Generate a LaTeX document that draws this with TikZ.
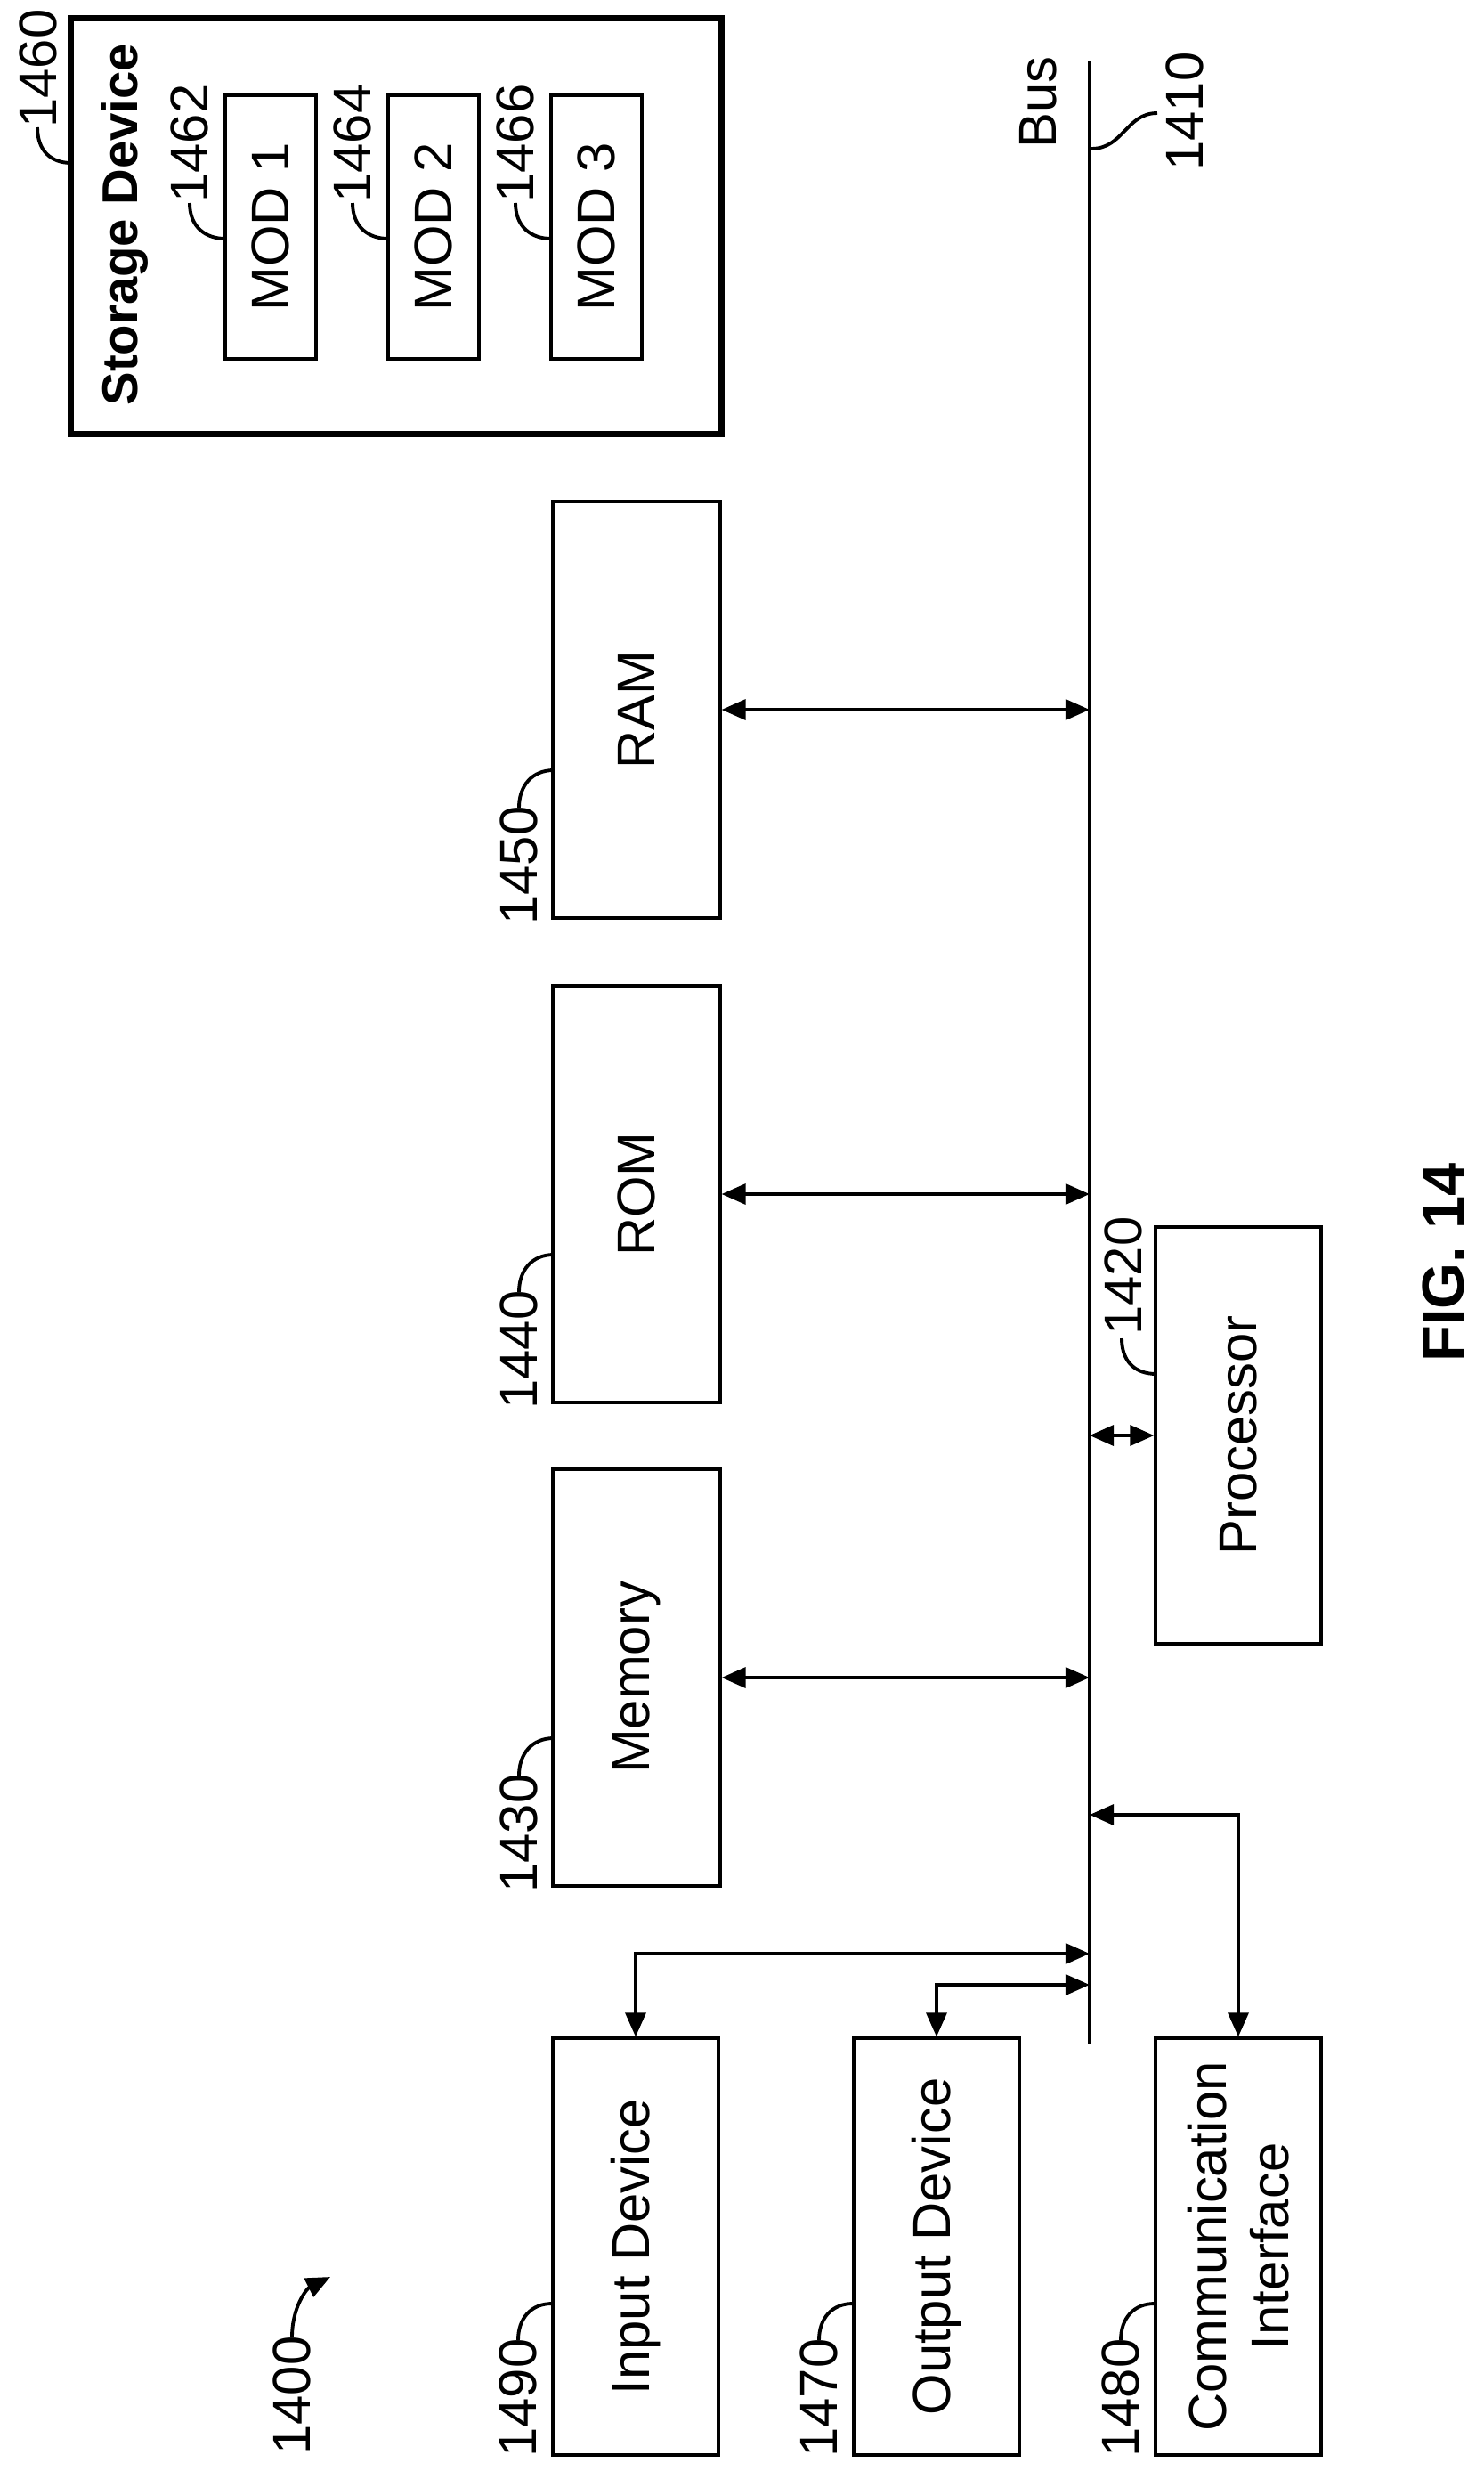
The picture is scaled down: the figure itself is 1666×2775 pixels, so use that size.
\documentclass[tikz,border=0pt]{standalone}
\usepackage{fontspec}
\setmainfont{Liberation Sans}
\usetikzlibrary{arrows.meta}
\begin{document}
\begin{tikzpicture}[x=0.01cm,y=-0.01cm,
  txt/.style={rotate=90,font=\fontsize{17}{20}\selectfont,align=center,inner sep=0pt},
  lbl/.style={rotate=90,font=\fontsize{17}{20}\selectfont,inner sep=0pt},
  lead/.style={line width=1.1pt},
  arr/.style={line width=1.15pt,{Triangle[length=7.7pt,width=6.5pt]}-{Triangle[length=7.7pt,width=6.5pt]}}]
\useasboundingbox (0,0) rectangle (1666,2775);
% storage
\node[draw,line width=2pt,inner sep=0pt,minimum width=7.3cm,minimum height=4.66cm] (stor) at (445,254) {};
\node[txt,font=\bfseries\fontsize{16}{19}\selectfont] (stortxt) at (140,252) {Storage Device};
\foreach \i/\x in {1/304,2/487,3/670}{
  \node[draw,line width=1.15pt,minimum width=1.02cm,minimum height=2.96cm,inner sep=0pt] (mod\i) at (\x,255) {};
  \node[txt] (modt\i) at (\x,255) {MOD \i};
}
\node[lbl] (l1460) at (43,77) {1460};
\draw[lead] (42,143) .. controls (42,170) and (58,183) .. (80,183);
\foreach \x/\n in {213/1462,396/1464,579/1466}{
  \node[lbl] (l\n) at (\x,161) {\n};
  \draw[lead] (\x,228) .. controls (\x,255) and (\x+18,268) .. (\x+40,268);
}
% bus
\coordinate (busTop) at (1224,69);
\coordinate (busBot) at (1224,2295);
\draw[line width=1.2pt] (busTop) -- (busBot);
\node[lbl] (bus) at (1166,115) {Bus};
\node[lbl] (l1410) at (1331,125) {1410};
\draw[lead] (1226,167) .. controls (1262,167) and (1265,127) .. (1300,127);
% RAM ROM Memory
\foreach \nm/\t/\yc/\n in {ram/RAM/797/1450,rom/ROM/1341/1440,mem/Memory/1884/1430}{
  \node[draw,line width=1.15pt,minimum width=1.87cm,minimum height=4.67cm,inner sep=0pt] (\nm) at (715,\yc) {};
  \node[txt] (\nm t) at (715,\yc) {\t};
  \node[lbl] (l\n) at (583,\yc+175) {\n};
  \draw[lead] (583,\yc+110) .. controls (583,\yc+85) and (598,\yc+68) .. (622,\yc+68);
  \draw[arr] (\nm.east) -- (\nm.east -| busTop);
}
% processor
\node[draw,line width=1.15pt,minimum width=1.85cm,minimum height=4.67cm,inner sep=0pt] (proc) at (1391,1612) {};
\node[txt] (proct) at (1391,1612) {Processor};
\node[lbl] (l1420) at (1262,1433) {1420};
\draw[lead] (1260,1503) .. controls (1260,1530) and (1276,1543) .. (1299,1543);
\draw[arr] (proc.west) -- (proc.west -| busTop);
% bottom boxes
\foreach \nm/\t/\xc/\n in {inp/Input Device/714/1490,outp/Output Device/1052/1470,comm/{Communication\\Interface}/1391/1480}{
  \node[draw,line width=1.15pt,minimum width=1.86cm,minimum height=4.67cm,inner sep=0pt] (\nm) at (\xc,2523) {};
  \node[txt] (\nm t) at (\xc,2523) {\t};
  \node[lbl] (l\n) at (\xc-132,2693) {\n};
  \draw[lead] (\xc-132,2628) .. controls (\xc-132,2603) and (\xc-117,2587) .. (\xc-94,2587);
}
\coordinate (bi) at (1224,2194);
\coordinate (bo) at (1224,2229);
\coordinate (bc) at (1224,2038);
\draw[arr] (inp.north) |- (bi);
\draw[arr] (outp.north) |- (bo);
\draw[arr] (comm.north) |- (bc);
% 1400
\node[lbl] (l1400) at (328,2690) {1400};
\coordinate (p1400) at (371,2557);
\draw[line width=1.1pt,-{Triangle[length=7.7pt,width=6.5pt]}] (328,2625) .. controls (328,2590) and (345,2570) .. (p1400);
% fig
\node[rotate=90,font=\bfseries\fontsize{19}{22}\selectfont,inner sep=0pt] (fig) at (1621,1418) {FIG. 14};
\end{tikzpicture}
\end{document}
